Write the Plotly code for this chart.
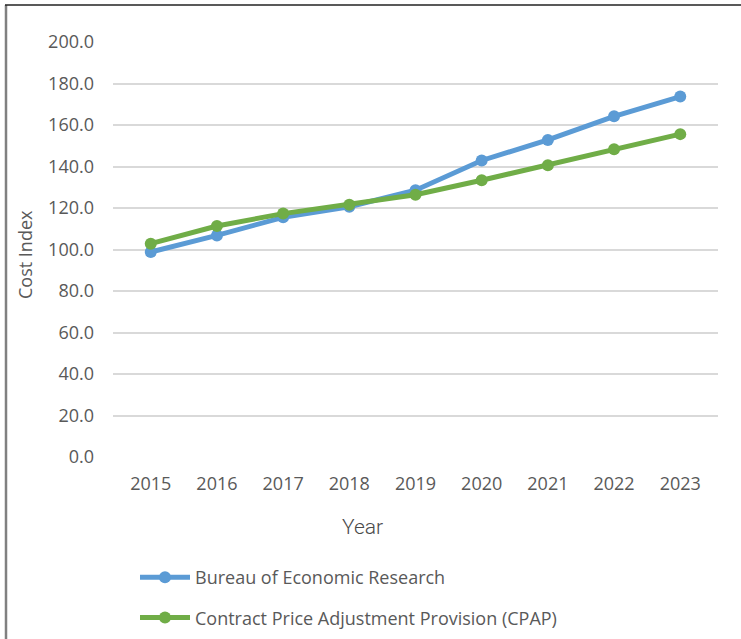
import plotly.graph_objects as go

years = ["2015", "2016", "2017", "2018", "2019", "2020", "2021", "2022", "2023"]
ber = [98.8, 106.8, 115.5, 120.6, 128.6, 142.9, 152.8, 164.2, 173.7]
cpap = [102.8, 111.3, 117.3, 121.6, 126.4, 133.4, 140.6, 148.3, 155.6]
series_names = ["Bureau of Economic Research", "Contract Price Adjustment Provision (CPAP)"]
ytick_vals = [0, 20, 40, 60, 80, 100, 120, 140, 160, 180, 200]

BLUE = "#5B9BD5"
GREEN = "#70AD47"
FONT = "Open Sans"

W, H = 741, 639
L, R, T, B = 113, 718, 42, 457

fig = go.Figure()
fig.add_trace(go.Scatter(x=years, y=ber, mode="lines+markers", name=series_names[0],
                         line=dict(color=BLUE, width=5), marker=dict(color=BLUE, size=12),
                         legendgroup="a"))
fig.add_trace(go.Scatter(x=years, y=cpap, mode="lines+markers", name=series_names[1],
                         line=dict(color=GREEN, width=5), marker=dict(color=GREEN, size=12),
                         legendgroup="b"))

def px_x(p):
    return (p - L) / (R - L)

def px_y(p):
    return (B - p) / (B - T)

fig.update_layout(
    width=W, height=H,
    margin=dict(l=L, r=W - R, t=T, b=H - B, pad=0, autoexpand=False),
    paper_bgcolor="white", plot_bgcolor="white",
    font=dict(family=FONT, size=18, color="#595959"),
    xaxis=dict(type="category", showgrid=False, showline=False, zeroline=False,
               ticks="", tickfont=dict(size=18, color="#595959"), ticklabelstandoff=14),
    yaxis=dict(range=[0, 200], tickvals=ytick_vals, tickformat=".1f",
               showgrid=True, gridcolor="#D9D9D9", gridwidth=1.5,
               zeroline=False, showline=False, ticks="",
               tickfont=dict(size=18, color="#595959"), ticklabelstandoff=18),
    showlegend=True,
    legend=dict(x=px_x(135), y=px_y(559), xanchor="left", yanchor="top",
                font=dict(size=18, color="#595959"), tracegroupgap=14,
                itemwidth=50, bgcolor="rgba(0,0,0,0)"),
    annotations=[
        dict(text="Year", x=px_x(362), y=px_y(527), xref="paper", yref="paper",
             showarrow=False, font=dict(family="Roboto", size=21, color="#4a4a4a", weight=300),
             xanchor="center", yanchor="middle"),
        dict(text="Cost Index", x=px_x(25), y=px_y(255), xref="paper", yref="paper",
             showarrow=False, textangle=-90, font=dict(size=18, color="#595959"),
             xanchor="center", yanchor="middle"),
    ],
    shapes=[
        dict(type="line", xref="paper", yref="paper", x0=px_x(6), x1=px_x(6),
             y0=px_y(5), y1=px_y(645), line=dict(color="#808080", width=2.5)),
        dict(type="line", xref="paper", yref="paper", x0=px_x(5), x1=px_x(745),
             y0=px_y(5), y1=px_y(5), line=dict(color="#222222", width=1.5)),
    ],
)

fig.write_html("out.html")
